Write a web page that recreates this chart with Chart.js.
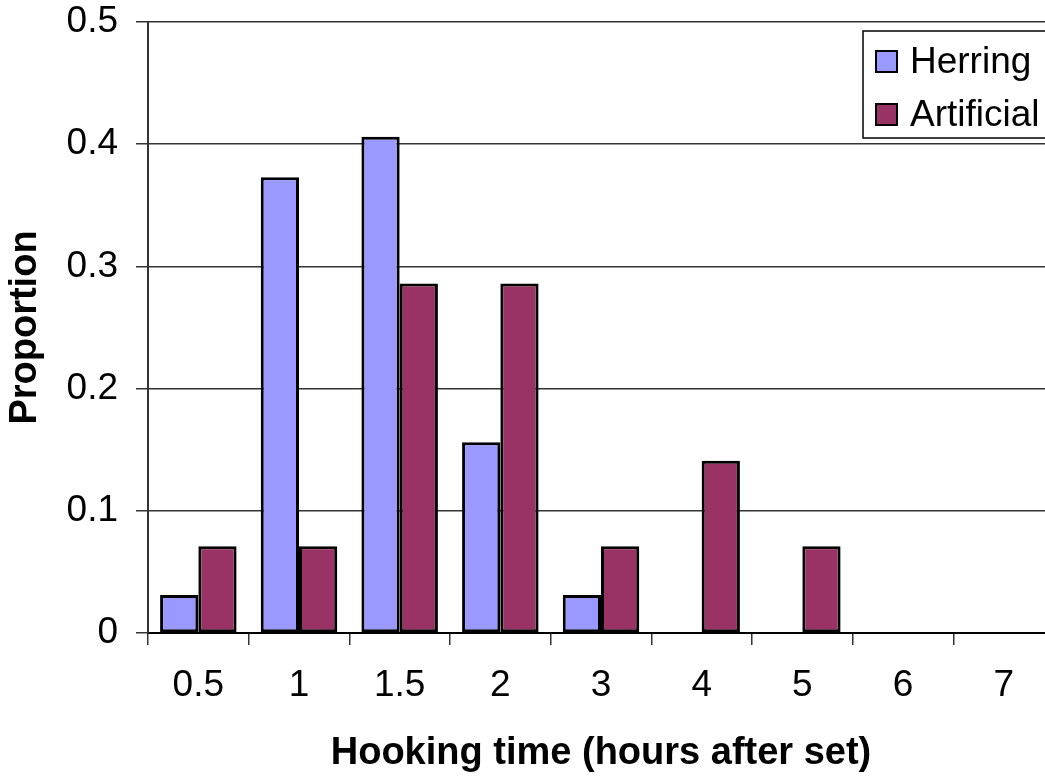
<!DOCTYPE html>
<html>
<head>
<meta charset="utf-8">
<script src="https://cdn.jsdelivr.net/npm/chart.js@4.4.1/dist/chart.umd.min.js"></script>
<style>
    html, body { margin: 0; padding: 0; background: #fff; overflow: hidden; }
    #wrap { position: relative; width: 1060px; height: 777px; }
</style>
</head>
<body>
<div id="wrap"><canvas id="graphHook"></canvas></div>
<script>
    // Données
    const categories = ['0.5', '1', '1.5', '2', '3', '4', '5', '6', '7'];
    const herring = [0.031, 0.373, 0.406, 0.156, 0.031, 0, 0, 0, 0];
    const artificial = [0.071, 0.071, 0.286, 0.286, 0.071, 0.141, 0.071, 0, 0];
    const yTicks = [0, 0.1, 0.2, 0.3, 0.4, 0.5];

    const police = 'Arial, "Liberation Sans", sans-serif';

    // Légende dessinée à la main, dans un cadre noir
    const legendeCadre = {
        id: 'legendeCadre',
        afterDraw(chart) {
            const ctx = chart.ctx;
            const x0 = 863, y0 = 31, w = 200, h = 107;
            ctx.save();
            ctx.fillStyle = '#fff';
            ctx.fillRect(x0, y0, w, h);
            ctx.strokeStyle = '#000';
            ctx.lineWidth = 1.5;
            ctx.strokeRect(x0, y0, w, h);
            ctx.font = '37px ' + police;
            ctx.textBaseline = 'middle';
            chart.data.datasets.forEach(function(ds, i) {
                const cy = 62 + i * 53;
                ctx.fillStyle = ds.backgroundColor;
                ctx.fillRect(876, cy - 11, 21, 21);
                ctx.strokeStyle = '#000';
                ctx.lineWidth = 2;
                ctx.strokeRect(876, cy - 11, 21, 21);
                ctx.fillStyle = '#000';
                ctx.fillText(ds.label, 910, cy + 1);
            });
            ctx.restore();
        }
    };

    function graph() {
        const ctx = document.getElementById('graphHook').getContext('2d');
        new Chart(ctx, {
            type: 'bar',
            data: {
                labels: categories,
                datasets: [{
                    label: 'Herring',
                    data: herring,
                    backgroundColor: '#9999FF',
                    borderColor: '#000',
                    borderWidth: 3,
                    borderSkipped: false
                }, {
                    label: 'Artificial',
                    data: artificial,
                    backgroundColor: '#993366',
                    borderColor: '#000',
                    borderWidth: 3,
                    borderSkipped: false
                }]
            },
            options: {
                responsive: true,
                maintainAspectRatio: false,
                animation: false,
                categoryPercentage: 0.76,
                barPercentage: 1.0,
                layout: { padding: { top: 22, right: 6, left: 0, bottom: 0 } },
                plugins: {
                    legend: { display: false },
                    tooltip: { enabled: false }
                },
                scales: {
                    x: {
                        grid: {
                            offset: true,
                            drawOnChartArea: false,
                            drawTicks: true,
                            tickLength: 12,
                            tickColor: '#333',
                            lineWidth: 1.5
                        },
                        border: { color: '#000', width: 2 },
                        ticks: {
                            color: '#000',
                            font: { family: police, size: 37 },
                            padding: 19,
                            maxRotation: 0,
                            autoSkip: false
                        },
                        title: {
                            display: true,
                            text: 'Hooking time (hours after set)',
                            color: '#000',
                            font: { family: police, size: 38, weight: 'bold' },
                            padding: { top: 0, bottom: 1 }
                        },
                        afterFit(scale) {
                            scale.height = 144;
                            scale.paddingLeft = 0;
                            scale.paddingRight = 0;
                        }
                    },
                    y: {
                        min: 0,
                        max: 0.5,
                        afterBuildTicks(scale) {
                            scale.ticks = yTicks.map(v => ({ value: v }));
                        },
                        grid: {
                            color: '#333',
                            lineWidth: 1.5,
                            tickLength: 12,
                            tickColor: '#333'
                        },
                        border: { color: '#333', width: 2 },
                        ticks: {
                            color: '#000',
                            font: { family: police, size: 37 },
                            padding: 18,
                            callback: v => String(Math.round(v * 10) / 10)
                        },
                        title: {
                            display: true,
                            text: 'Proportion',
                            color: '#000',
                            font: { family: police, size: 38, weight: 'bold' },
                            padding: { top: 3, bottom: 0 }
                        },
                        afterFit(scale) {
                            scale.width = 148;
                            scale.paddingTop = 0;
                            scale.paddingBottom = 0;
                        }
                    }
                }
            },
            plugins: [legendeCadre]
        });
    }

    document.addEventListener('DOMContentLoaded', function() {
        graph();
    });
</script>
</body>
</html>
